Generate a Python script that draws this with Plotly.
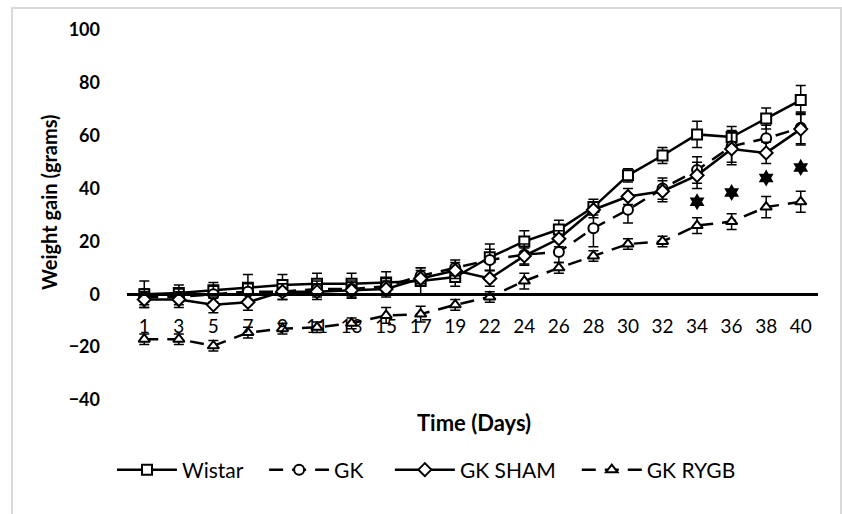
import plotly.graph_objects as go

days = ["1", "3", "5", "7", "9", "11", "13", "15", "17", "19", "22", "24", "26", "28", "30", "32", "34", "36", "38", "40"]

wistar = [0, 0.5, 1.5, 2.5, 3.5, 4, 4, 4.5, 5, 6.5, 14, 20, 24.5, 33, 45, 52.5, 60.5, 59.5, 66.5, 73.5]
wistar_err = [5, 3, 3, 5, 4, 4, 4, 4, 5, 3.5, 5, 4, 3.5, 3, 2.5, 3, 5, 4, 4, 5.5]

gk = [-1, -1, 0, 1, 1, 2, 2, 3, 7, 10, 13, 15, 16, 25, 32, 40, 47, 56, 59, 63]
gk_err = [3, 3, 3, 3, 3, 3, 3, 3, 3, 3, 4, 4, 4, 7, 5, 4, 5, 6, 5, 6]

gk_sham = [-2, -2, -4, -3, 1, 1, 1.5, 2, 6, 9, 6, 14.5, 21, 32, 37, 39, 45, 55, 53.5, 62.5]
gk_sham_err = [3, 3, 3, 3, 3, 3, 3, 3, 3, 3, 3, 3, 3, 3, 3, 4, 5, 6, 4, 6]

gk_rygb = [-17, -17, -19.5, -14.5, -13, -12.5, -11, -8, -7.5, -4, -1, 5, 10, 14.5, 19, 20, 26, 27.5, 33, 35]
gk_rygb_err = [2, 2, 2, 2, 2, 2, 2, 3, 3, 2, 2, 3, 2, 2, 2, 2, 3, 3, 4, 4]

star_days = ["34", "36", "38", "40"]
star_vals = [35, 38.5, 44, 48]

FONT = "Lato"
W, H = 842, 514
ML, MR, MT, MB = 127, 24, 30, 114
PW = W - ML - MR
PH = H - MT - MB
YMIN, YMAX = -40, 100
NB = "\u00a0"


def px_x(p):
    return (p - ML) / PW


def px_y(p):
    return (MT + PH - p) / PH


fig = go.Figure()

series = [
    ("Wistar", wistar, wistar_err, "square", "solid", 3),
    ("GK", gk, gk_err, "circle", "14px,9px", 4),
    ("GK SHAM", gk_sham, gk_sham_err, "diamond", "solid", 3),
    ("GK RYGB", gk_rygb, gk_rygb_err, "triangle-up", "14px,9px", 0),
]

for name, vals, err, sym, dash, pad in series:
    fig.add_trace(go.Scatter(
        x=days, y=vals, name=name + NB * pad, mode="lines+markers",
        line=dict(color="black", width=2.5, dash=dash),
        marker=dict(symbol=sym, size=10, color="white", line=dict(color="black", width=2)),
        error_y=dict(type="data", array=err, visible=True, color="black", thickness=1.5, width=5),
    ))

fig.add_trace(go.Scatter(
    x=star_days, y=star_vals, mode="markers", showlegend=False,
    marker=dict(symbol="hexagram", size=13, color="black"),
))

zero_pos = (0 - YMIN) / (YMAX - YMIN)

fig.update_layout(
    width=W, height=H,
    margin=dict(l=ML, r=MR, t=MT, b=MB, autoexpand=False),
    paper_bgcolor="white", plot_bgcolor="white",
    font=dict(family=FONT, color="black", size=18),
    xaxis=dict(
        type="category", categoryorder="array", categoryarray=days,
        range=[-0.5, len(days) - 0.5],
        anchor="free", position=zero_pos,
        showline=True, linecolor="black", linewidth=2.5,
        showgrid=False, zeroline=False, ticks="",
        ticklabelstandoff=14,
        tickfont=dict(family=FONT, size=19, color="black"),
    ),
    yaxis=dict(
        range=[YMIN, YMAX], dtick=20, showgrid=False, zeroline=False,
        showline=False, ticks="", ticklabelstandoff=26,
        tickfont=dict(family=FONT, size=18, color="black", weight="bold"),
    ),
    legend=dict(
        orientation="h", x=px_x(112), xanchor="left", y=px_y(470), yanchor="middle",
        font=dict(family=FONT, size=21, color="black"), itemwidth=60,
        bgcolor="rgba(0,0,0,0)", traceorder="normal",
    ),
    showlegend=True,
)

fig.add_annotation(
    text="<b>Weight gain (grams)</b>", xref="paper", yref="paper",
    x=px_x(49), y=px_y(202), textangle=-90, showarrow=False,
    font=dict(family=FONT, size=20, color="black"), xanchor="center", yanchor="middle",
)
fig.add_annotation(
    text="<b>Time (Days)</b>", xref="paper", yref="paper",
    x=px_x(474), y=px_y(422), showarrow=False,
    font=dict(family=FONT, size=22, color="black"), xanchor="center", yanchor="middle",
)

fig.add_shape(
    type="rect", xref="paper", yref="paper",
    x0=px_x(12), x1=px_x(841), y0=px_y(530), y1=px_y(8),
    line=dict(color="#d9d9d9", width=2), fillcolor="rgba(0,0,0,0)", layer="below",
)

fig.write_html("out.html")
